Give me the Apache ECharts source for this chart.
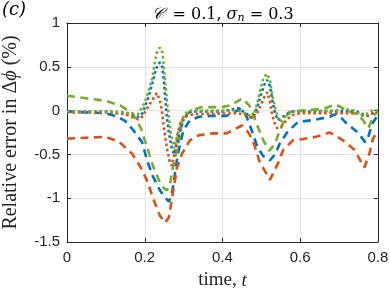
<!DOCTYPE html>
<html><head><meta charset="utf-8">
<script src="https://cdn.jsdelivr.net/npm/echarts@6/dist/echarts.min.js"></script>
<style>html,body{margin:0;padding:0;background:#fff}#c{width:390px;height:290px}</style>
</head><body><div id="c"></div>
<script>
// tick labels
const xTickLabels = ['0', '0.2', '0.4', '0.6', '0.8'];
const yTickLabels = ['-1.5', '-1', '-0.5', '0', '0.5', '1'];

// blue dashed
const blueDashT = [0, 0.05, 0.1, 0.13, 0.15, 0.17, 0.193, 0.206, 0.221, 0.239, 0.252, 0.262, 0.268, 0.275, 0.28, 0.288, 0.293, 0.3, 0.316, 0.34, 0.37, 0.41, 0.43, 0.445, 0.46, 0.47, 0.49, 0.505, 0.522, 0.535, 0.548, 0.566, 0.594, 0.63, 0.676, 0.69, 0.705, 0.72, 0.748, 0.767, 0.775, 0.785, 0.8];
const blueDashV = [-0.01, -0.02, -0.03, -0.07, -0.12, -0.22, -0.36, -0.57, -0.75, -0.91, -0.99, -1.04, -0.98, -0.82, -0.63, -0.44, -0.34, -0.22, -0.11, -0.07, -0.06, -0.06, -0.02, 0.02, -0.05, -0.16, -0.42, -0.52, -0.57, -0.5, -0.37, -0.25, -0.13, -0.11, -0.07, -0.04, -0.08, -0.15, -0.25, -0.36, -0.3, -0.15, -0.05];
// orange dashed
const orangeDashT = [0, 0.05, 0.1, 0.135, 0.167, 0.19, 0.208, 0.221, 0.239, 0.252, 0.262, 0.275, 0.283, 0.296, 0.316, 0.34, 0.375, 0.41, 0.45, 0.465, 0.478, 0.496, 0.522, 0.543, 0.556, 0.581, 0.6, 0.64, 0.676, 0.71, 0.74, 0.758, 0.765, 0.778, 0.787, 0.8];
const orangeDashV = [-0.32, -0.31, -0.3, -0.36, -0.49, -0.65, -0.82, -1.0, -1.2, -1.28, -1.22, -0.87, -0.65, -0.49, -0.34, -0.28, -0.26, -0.26, -0.17, -0.24, -0.34, -0.59, -0.79, -0.6, -0.45, -0.34, -0.33, -0.3, -0.25, -0.34, -0.45, -0.6, -0.65, -0.49, -0.32, -0.23];
// green dashed
const greenDashT = [0, 0.05, 0.1, 0.137, 0.168, 0.19, 0.206, 0.221, 0.237, 0.25, 0.257, 0.265, 0.27, 0.28, 0.288, 0.296, 0.31, 0.316, 0.345, 0.4, 0.42, 0.44, 0.452, 0.47, 0.48, 0.494, 0.505, 0.52, 0.535, 0.548, 0.56, 0.57, 0.6, 0.66, 0.69, 0.7, 0.72, 0.745, 0.76, 0.775, 0.79, 0.8];
const greenDashV = [0.17, 0.14, 0.11, 0.06, -0.03, -0.2, -0.42, -0.63, -0.8, -0.89, -0.91, -0.85, -0.7, -0.5, -0.33, -0.15, -0.04, -0.01, 0.04, 0.04, 0.06, 0.11, 0.14, 0.05, -0.06, -0.22, -0.34, -0.46, -0.38, -0.22, -0.1, -0.02, 0.0, 0.02, 0.07, 0.05, 0.0, -0.04, -0.1, -0.2, -0.05, -0.01];
// blue dotted
const blueDotT = [0, 0.1, 0.15, 0.17, 0.183, 0.193, 0.2, 0.21, 0.22, 0.228, 0.233, 0.239, 0.245, 0.249, 0.253, 0.257, 0.262, 0.268, 0.275, 0.283, 0.29, 0.298, 0.309, 0.32, 0.4, 0.44, 0.46, 0.478, 0.49, 0.5, 0.508, 0.515, 0.522, 0.528, 0.535, 0.543, 0.55, 0.565, 0.58, 0.7, 0.74, 0.76, 0.775, 0.79, 0.8];
const blueDotV = [-0.01, -0.01, -0.03, -0.05, -0.07, -0.04, 0.04, 0.16, 0.32, 0.46, 0.52, 0.55, 0.5, 0.35, 0.12, -0.08, -0.25, -0.4, -0.5, -0.38, -0.25, -0.12, -0.04, -0.01, -0.01, 0.03, -0.03, -0.09, 0.05, 0.2, 0.3, 0.35, 0.28, 0.12, -0.03, -0.11, -0.09, -0.04, -0.01, -0.01, 0.0, -0.04, -0.06, -0.02, 0.0];
// orange dotted
const orangeDotT = [0, 0.1, 0.15, 0.17, 0.183, 0.19, 0.2, 0.208, 0.219, 0.231, 0.239, 0.244, 0.248, 0.253, 0.258, 0.265, 0.27, 0.277, 0.285, 0.293, 0.305, 0.33, 0.44, 0.46, 0.478, 0.49, 0.5, 0.508, 0.515, 0.522, 0.528, 0.535, 0.54, 0.552, 0.566, 0.58, 0.6, 0.75, 0.765, 0.78, 0.8];
const orangeDotV = [-0.02, -0.02, -0.04, -0.08, -0.1, -0.09, -0.02, 0.04, 0.12, 0.2, 0.12, 0.0, -0.15, -0.32, -0.45, -0.6, -0.63, -0.48, -0.25, -0.12, -0.06, -0.04, -0.03, -0.05, -0.09, -0.02, 0.08, 0.16, 0.21, 0.1, -0.05, -0.15, -0.2, -0.18, -0.1, -0.05, -0.03, -0.03, -0.07, -0.04, -0.01];
// green dotted
const greenDotT = [0, 0.1, 0.15, 0.17, 0.183, 0.188, 0.2, 0.208, 0.219, 0.226, 0.231, 0.239, 0.246, 0.249, 0.253, 0.257, 0.261, 0.267, 0.275, 0.283, 0.29, 0.298, 0.309, 0.32, 0.44, 0.46, 0.478, 0.49, 0.497, 0.505, 0.514, 0.522, 0.527, 0.535, 0.543, 0.548, 0.556, 0.57, 0.583, 0.69, 0.71, 0.74, 0.755, 0.77, 0.785, 0.8];
const greenDotV = [-0.01, -0.01, -0.02, -0.04, -0.04, -0.02, 0.09, 0.2, 0.36, 0.55, 0.66, 0.72, 0.66, 0.5, 0.3, 0.12, -0.05, -0.25, -0.43, -0.3, -0.19, -0.08, -0.01, 0.0, 0.0, -0.03, -0.08, 0.09, 0.24, 0.37, 0.42, 0.35, 0.2, 0.04, -0.09, -0.13, -0.09, -0.04, -0.01, 0.0, 0.02, 0.0, -0.06, -0.04, 0.0, 0.0];

const BLUE = '#0072BD', ORANGE = '#D95319', GREEN = '#77AC30';
const AX = '#262626';
const pairs = (t, v) => t.map((x, i) => [x, v[i]]);
const DASH = [8, 5.5], DOT = [2.6, 2.8];
function line(t, v, color, dash) {
  return {
    type: 'line', data: pairs(t, v), showSymbol: false, symbol: 'none',
    lineStyle: { color: color, width: 2.6, type: dash, cap: 'butt' },
    animation: false, silent: true
  };
}
function fmt(labels) {
  return v => { let best = labels[0], d = 1e9; labels.forEach(l => { const dd = Math.abs(parseFloat(l) - v); if (dd < d) { d = dd; best = l; } }); return best; };
}
const tickFont = { fontFamily: 'Liberation Sans', fontSize: 15, color: AX };
const chart = echarts.init(document.getElementById('c'), null, { renderer: 'canvas' });
chart.setOption({
  backgroundColor: '#fff',
  animation: false,
  grid: { left: 67, right: 12, top: 23, bottom: 48, containLabel: false, outerBoundsMode: 'none' },
  title: {
    text: '{m|𝒞} = 0.1, {i|σ}{s|n} = 0.3',
    left: 218, top: 1, textAlign: 'center',
    textStyle: {
      fontFamily: 'DejaVu Serif', fontSize: 16, fontWeight: 'normal', color: '#000',
      rich: {
        m: { fontFamily: 'DejaVu Serif', fontSize: 16, fontStyle: 'italic', color: '#000', padding: [0, 3, 0, 0] },
        i: { fontFamily: 'DejaVu Serif', fontSize: 16, fontStyle: 'italic', color: '#000' },
        s: { fontFamily: 'DejaVu Serif', fontSize: 11, fontStyle: 'italic', color: '#000', padding: [7, 0, 0, 0] }
      }
    }
  },
  graphic: [{
    type: 'text', left: 2, top: 1,
    style: { text: '(c)', fontFamily: 'DejaVu Serif', fontStyle: 'italic', fontSize: 18, fill: '#000' }
  }],
  xAxis: [{
    type: 'value', min: 0, max: 0.8, interval: 0.2,
    name: '{r|time, }{i|t}', nameLocation: 'middle', nameGap: 29,
    nameTextStyle: { rich: {
      r: { fontFamily: 'Liberation Serif', fontSize: 19, color: AX },
      i: { fontFamily: 'Liberation Serif', fontSize: 19, fontStyle: 'italic', color: AX } } },
    axisLine: { show: true, onZero: false, lineStyle: { color: AX, width: 1 } },
    axisTick: { show: true, inside: true, length: 4, lineStyle: { color: AX } },
    axisLabel: Object.assign({ margin: 8, formatter: fmt(xTickLabels) }, tickFont),
    splitLine: { show: true, lineStyle: { color: '#e3e3e3', width: 1 } }
  }, {
    type: 'value', position: 'top', min: 0, max: 0.8, interval: 0.2,
    axisLine: { show: true, onZero: false, lineStyle: { color: AX, width: 1 } },
    axisTick: { show: true, inside: true, length: 4, lineStyle: { color: AX } },
    axisLabel: { show: false }, splitLine: { show: false }
  }],
  yAxis: [{
    type: 'value', min: -1.5, max: 1, interval: 0.5,
    name: '{r|Relative error in Δ}{i|ϕ}{r| (%)}', nameLocation: 'middle', nameGap: 46,
    nameTextStyle: { rich: {
      r: { fontFamily: 'Liberation Serif', fontSize: 20, color: AX },
      i: { fontFamily: 'Liberation Serif', fontSize: 20, fontStyle: 'italic', color: AX } } },
    axisLine: { show: true, onZero: false, lineStyle: { color: AX, width: 1 } },
    axisTick: { show: true, inside: true, length: 4, lineStyle: { color: AX } },
    axisLabel: Object.assign({ margin: 7, formatter: fmt(yTickLabels) }, tickFont),
    splitLine: { show: true, lineStyle: { color: '#e3e3e3', width: 1 } }
  }, {
    type: 'value', position: 'right', min: -1.5, max: 1, interval: 0.5,
    axisLine: { show: true, onZero: false, lineStyle: { color: AX, width: 1 } },
    axisTick: { show: true, inside: true, length: 4, lineStyle: { color: AX } },
    axisLabel: { show: false }, splitLine: { show: false }
  }],
  series: [
    line(blueDashT, blueDashV, BLUE, DASH),
    line(orangeDashT, orangeDashV, ORANGE, DASH),
    line(greenDashT, greenDashV, GREEN, DASH),
    line(blueDotT, blueDotV, BLUE, DOT),
    line(orangeDotT, orangeDotV, ORANGE, DOT),
    line(greenDotT, greenDotV, GREEN, DOT)
  ]
});
</script></body></html>
